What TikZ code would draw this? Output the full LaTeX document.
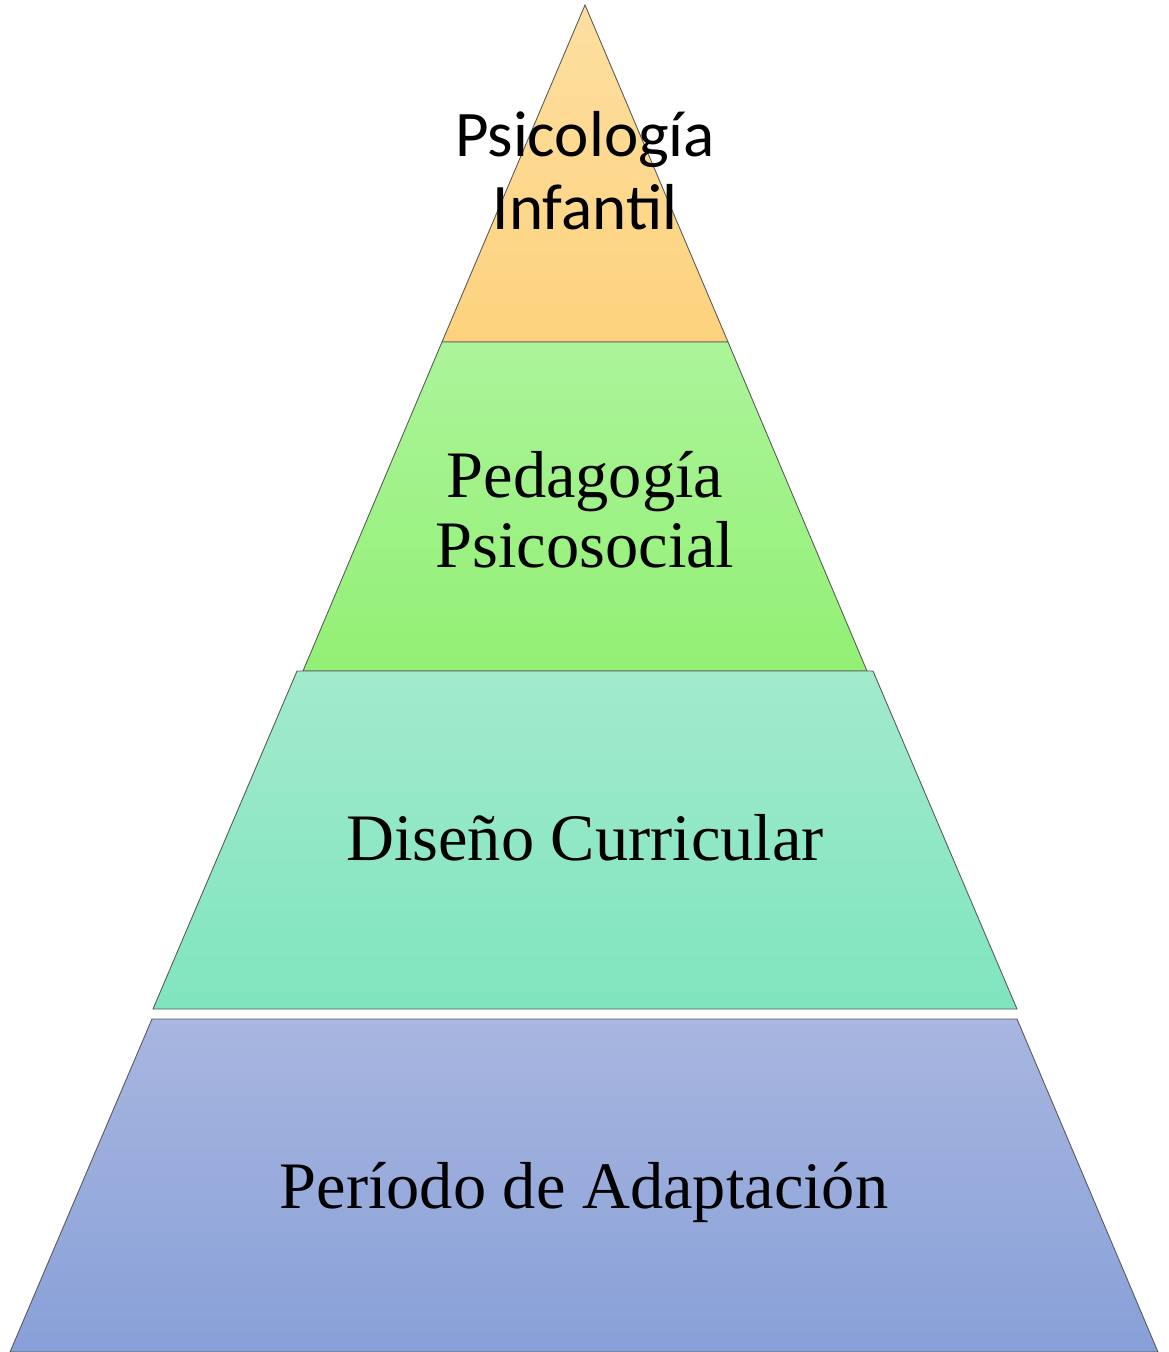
\documentclass[tikz,border=0pt]{standalone}
\usepackage{fontspec}
\setmainfont{Liberation Serif}
\newfontfamily\carlito{Carlito}
\usepackage{tikz}

\tikzset{
    layer/.style={draw=gray!70!black, line width=0.5pt},
    label/.style={align=center, font=\fontsize{37.8}{39.7}\selectfont}
}

\begin{document}
\begin{tikzpicture}[x=0.02cm, y=0.02cm]
    \useasboundingbox (0,0) rectangle (1169,-1352);

    % Top layer
    \shade[layer, top color={rgb,255:red,253;green,223;blue,160}, bottom color={rgb,255:red,253;green,210;blue,125}]
        (585,-5) -- (728,-342) -- (442,-342) -- cycle;
    \node[label, font=\carlito\fontsize{37}{41.4}\selectfont] (psi) at (585,-171) {Psicología\\Infantil};

    % Second layer
    \shade[layer, top color={rgb,255:red,172;green,244;blue,154}, bottom color={rgb,255:red,146;green,240;blue,116}]
        (442,-342) -- (728,-342) -- (867,-671) -- (303,-671) -- cycle;
    \node[label] (ped) at (585,-510) {Pedagogía\\Psicosocial};

    % Third layer
    \shade[layer, top color={rgb,255:red,162;green,234;blue,204}, bottom color={rgb,255:red,127;green,229;blue,190}]
        (297,-671) -- (873,-671) -- (1017,-1009) -- (153,-1009) -- cycle;
    \node[label, anchor=base] (dis) at (585,-860) {Diseño Curricular};

    % Bottom layer
    \shade[layer, top color={rgb,255:red,168;green,182;blue,224}, bottom color={rgb,255:red,136;green,160;blue,216}]
        (152,-1019) -- (1017,-1019) -- (1158,-1352) -- (10,-1352) -- cycle;
    \node[label, anchor=base] (per) at (584,-1208) {Período de Adaptación};
\end{tikzpicture}
\end{document}
